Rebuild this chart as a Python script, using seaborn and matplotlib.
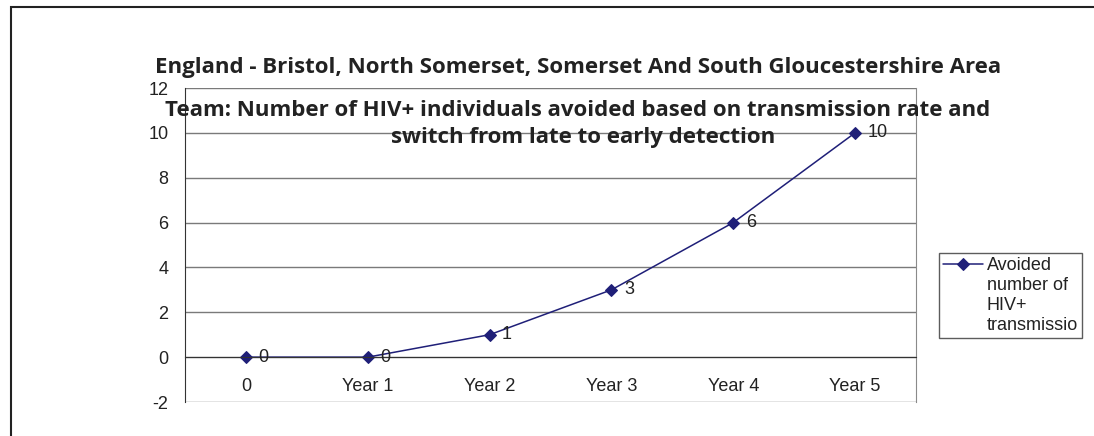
import pandas as pd
import numpy as np
import matplotlib.pyplot as plt
import matplotlib.patches as patches
from matplotlib.lines import Line2D
import seaborn as sns

# chart data
categories = ["0", "Year 1", "Year 2", "Year 3", "Year 4", "Year 5"]
avoided = [0, 0, 1, 3, 6, 10]
y_ticks = [-2, 0, 2, 4, 6, 8, 10, 12]
series_name = "Avoided number of HIV+ transmissions"
legend_lines = ["Avoided", "number of\nHIV+\ntransmissio"]
title_lines = ["England - Bristol, North Somerset, Somerset And South Gloucestershire Area",
               "Team: Number of HIV+ individuals avoided based on transmission rate and",
               "switch from late to early detection"]

df = pd.DataFrame({"pos": np.arange(len(categories)), "avoided": avoided})

sns.set_style("white")
plt.rcParams["font.family"] = ["Liberation Sans", "DejaVu Sans"]

W, H = 1094, 436
fig = plt.figure(figsize=(W / 100, H / 100), dpi=100)
ax = fig.add_axes([185 / W, 1 - 402 / H, (916 - 185) / W, (402 - 88) / H])

# x axis crosses at 0 (set before tick styling, it resets the ticks)
ax.spines["bottom"].set_position(("data", 0))

navy = "#1f1f78"
sns.lineplot(data=df, x="pos", y="avoided", ax=ax, color=navy, marker="D",
             markersize=6, markeredgecolor=navy, linewidth=1.1,
             label=series_name, legend=False)

# data labels
for x, v in zip(df["pos"], df["avoided"]):
    ax.annotate(str(v), (x, v), xytext=(9, 0), textcoords="offset points",
                va="center", ha="left", fontsize=13, color="#222222")

ax.set_xlim(-0.5, len(categories) - 0.5)
ax.set_ylim(-2, 12)
ax.set_yticks(y_ticks)
ax.set_yticklabels([str(t) for t in y_ticks], fontsize=13, color="#222222")
ax.set_xticks(np.arange(len(categories)))
ax.set_xticklabels(categories, fontsize=13, color="#222222")
ax.set_xticks(np.arange(len(categories) + 1) - 0.5, minor=True)
ax.tick_params(axis="x", which="major", length=0, pad=15)
ax.tick_params(axis="x", which="minor", length=5, width=0.8, color="#333333", direction="out")
ax.tick_params(axis="y", length=5, width=0.8, color="#333333", direction="out", pad=7)
ax.set_xlabel("")
ax.set_ylabel("")

ax.grid(axis="y", color="#7a7a7a", linewidth=1)
ax.spines["left"].set_color("#333333")
ax.spines["bottom"].set_color("#333333")
ax.spines["top"].set_visible(False)
ax.spines["right"].set_color("#8a8a8a")
ax.set_axisbelow(True)

# title, one text per wrapped line
tfont = ["Open Sans", "DejaVu Sans"]
for line, xc, yc in zip(title_lines, [578, 578, 583], [68, 110, 138]):
    fig.text(xc / W, 1 - yc / H, line, ha="center", va="center",
             fontsize=16, fontweight="bold", family=tfont, color="#222222")

# legend: the series line sits next to the first text line, the rest wraps below
handles = [ax.get_lines()[0], Line2D([], [], alpha=0)]
leg = ax.legend(handles, legend_lines, loc="upper left", bbox_to_anchor=(939 / W, 1 - 253 / H),
                bbox_transform=fig.transFigure, frameon=True, fancybox=False,
                edgecolor="#333333", fontsize=13, handlelength=2.2,
                borderpad=0.22, handletextpad=0.22, borderaxespad=0, labelspacing=0.18)
leg.get_frame().set_linewidth(1)
for t in leg.get_texts():
    t.set_linespacing(1.22)
    t.set_color("#222222")

# outer chart border
fig.patches.append(patches.Rectangle((11 / W, -0.2), 1.2, 1 - 7 / H + 0.2,
                                     transform=fig.transFigure, fill=False,
                                     edgecolor="#222222", linewidth=1.5))

fig.savefig("out.png", dpi=100)
